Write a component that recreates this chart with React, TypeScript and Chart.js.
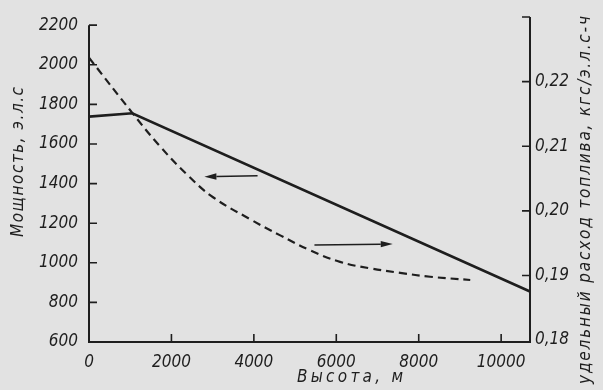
import React, { useEffect, useRef } from "react";
import { Chart, registerables } from "chart.js";

Chart.register(...registerables);

// Altitude (m) vs engine power (e.h.p.) – solid line, left axis
const altitudePower = [0, 1050, 10700];
const power = [1738, 1755, 855];

// Altitude (m) vs specific fuel consumption – dashed line, right axis
const altitudeSfc = [0, 1070, 1720, 2380, 3010, 3910, 4640, 5360, 6090, 6820, 7550, 8280, 9250];
const sfc = [
  0.2237, 0.215, 0.21, 0.2056, 0.2021, 0.1987, 0.1962, 0.1939, 0.1921, 0.1911, 0.1904, 0.1898,
  0.1893,
];

// Axis tick values
const xTicks = [0, 2000, 4000, 6000, 8000, 10000];
const leftTicks = [600, 800, 1000, 1200, 1400, 1600, 1800, 2000, 2200];
const rightTicks = [0.18, 0.19, 0.2, 0.21, 0.22, 0.23];

// Arrows (data coordinates on altitude / power axes)
const arrowStartX = [4090, 5470];
const arrowStartY = [1440, 1090];
const arrowEndX = [2800, 7370];
const arrowEndY = [1435, 1095];

// Titles
const xTitle = "Высота, м";
const leftTitle = "Мощность, э.л.с";
const rightTitle = "удельный расход топлива, кгс/э.л.с-ч";

const INK = "#1e1e1e";
const BG = "#e2e2e2";
const FAMILY = "'DejaVu Sans Condensed', 'Liberation Sans Narrow', 'DejaVu Sans', sans-serif";

const drawSpaced = (ctx: CanvasRenderingContext2D, text: string, target: number) => {
  (ctx as any).letterSpacing = "0px";
  const w = ctx.measureText(text).width;
  const sp = (target - w) / Math.max(1, text.length - 1);
  (ctx as any).letterSpacing = sp + "px";
  ctx.textAlign = "left";
  ctx.fillText(text, -target / 2, 0);
  (ctx as any).letterSpacing = "0px";
};

const decorPlugin = {
  id: "decor",
  beforeDraw(chart: any) {
    const { ctx, width, height } = chart;
    ctx.save();
    ctx.fillStyle = BG;
    ctx.fillRect(0, 0, width, height);
    ctx.restore();
  },
  afterDraw(chart: any) {
    const { ctx, chartArea, scales } = chart;
    const { left, right, bottom } = chartArea;
    const xs = scales.x;
    const yl = scales.y;
    const yr = scales.y1;
    ctx.save();
    ctx.strokeStyle = INK;
    ctx.lineWidth = 2;
    ctx.lineCap = "butt";
    // axis lines
    ctx.beginPath();
    ctx.moveTo(left, yl.getPixelForValue(2200));
    ctx.lineTo(left, bottom);
    ctx.lineTo(right, bottom);
    ctx.lineTo(right, yr.getPixelForValue(0.23));
    ctx.stroke();
    // inward tick marks
    ctx.lineWidth = 1.6;
    ctx.beginPath();
    xTicks.forEach((v) => {
      if (v === 0) return;
      const px = xs.getPixelForValue(v);
      ctx.moveTo(px, bottom);
      ctx.lineTo(px, bottom - 8);
    });
    leftTicks.forEach((v) => {
      if (v === 600) return;
      const py = yl.getPixelForValue(v);
      ctx.moveTo(left, py);
      ctx.lineTo(left + 8, py);
    });
    rightTicks.forEach((v) => {
      if (v === 0.18) return;
      const py = yr.getPixelForValue(v);
      ctx.moveTo(right, py);
      ctx.lineTo(right - 8, py);
    });
    ctx.stroke();
    // arrows
    ctx.fillStyle = INK;
    ctx.lineWidth = 1.5;
    for (let i = 0; i < arrowStartX.length; i++) {
      const x0 = xs.getPixelForValue(arrowStartX[i]);
      const y0 = yl.getPixelForValue(arrowStartY[i]);
      const x1 = xs.getPixelForValue(arrowEndX[i]);
      const y1 = yl.getPixelForValue(arrowEndY[i]);
      const ang = Math.atan2(y1 - y0, x1 - x0);
      const hl = 12;
      const hw = 3.2;
      const bx = x1 - hl * Math.cos(ang);
      const by = y1 - hl * Math.sin(ang);
      ctx.beginPath();
      ctx.moveTo(x0, y0);
      ctx.lineTo(bx, by);
      ctx.stroke();
      ctx.beginPath();
      ctx.moveTo(x1, y1);
      ctx.lineTo(bx - hw * Math.sin(ang), by + hw * Math.cos(ang));
      ctx.lineTo(bx + hw * Math.sin(ang), by - hw * Math.cos(ang));
      ctx.closePath();
      ctx.fill();
    }
    // titles
    ctx.fillStyle = INK;
    ctx.textBaseline = "middle";
    ctx.font = `italic 17px ${FAMILY}`;
    ctx.save();
    ctx.translate(350, 378);
    drawSpaced(ctx, xTitle, 106);
    ctx.restore();
    ctx.save();
    ctx.translate(19, 162);
    ctx.rotate(-Math.PI / 2);
    drawSpaced(ctx, leftTitle, 150);
    ctx.restore();
    ctx.save();
    ctx.translate(586, 200);
    ctx.rotate(-Math.PI / 2);
    drawSpaced(ctx, rightTitle, 368);
    ctx.restore();
    ctx.restore();
  },
};

export default function App() {
  const ref = useRef<HTMLCanvasElement | null>(null);
  useEffect(() => {
    if (!ref.current) return;
    const tickFont = { family: FAMILY, size: 17, style: "italic" as const };
    const chart = new Chart(ref.current, {
      type: "line",
      data: {
        datasets: [
          {
            label: "power",
            data: altitudePower.map((x, i) => ({ x, y: power[i] })),
            yAxisID: "y",
            borderColor: INK,
            borderWidth: 2.6,
            pointRadius: 0,
            tension: 0,
          },
          {
            label: "sfc",
            data: altitudeSfc.map((x, i) => ({ x, y: sfc[i] })),
            yAxisID: "y1",
            borderColor: INK,
            borderWidth: 2.2,
            borderDash: [8, 5],
            pointRadius: 0,
            tension: 0.4,
          },
        ],
      },
      options: {
        responsive: false,
        animation: false,
        layout: { padding: { top: 18, left: 0, right: 0, bottom: 0 } },
        plugins: { legend: { display: false }, tooltip: { enabled: false } },
        scales: {
          x: {
            type: "linear",
            min: 0,
            max: 10700,
            grid: { display: false, drawTicks: false },
            border: { display: false },
            afterFit: (s: any) => {
              s.height = 48;
            },
            afterBuildTicks: (s: any) => {
              s.ticks = xTicks.map((v) => ({ value: v }));
            },
            ticks: {
              font: tickFont,
              color: INK,
              padding: 10,
              maxRotation: 0,
              autoSkip: false,
              callback: (v: any) => String(v),
            },
          },
          y: {
            position: "left",
            min: 600,
            max: 2220,
            grid: { display: false, drawTicks: false },
            border: { display: false },
            afterFit: (s: any) => {
              s.width = 89;
            },
            afterBuildTicks: (s: any) => {
              s.ticks = leftTicks.map((v) => ({ value: v }));
            },
            ticks: {
              font: tickFont,
              color: INK,
              padding: 11,
              callback: (v: any) => String(v),
            },
          },
          y1: {
            position: "right",
            min: 0.1797,
            max: 0.22935,
            grid: { display: false, drawTicks: false },
            border: { display: false },
            afterFit: (s: any) => {
              s.width = 73;
            },
            afterBuildTicks: (s: any) => {
              s.ticks = rightTicks.map((v) => ({ value: v }));
            },
            ticks: {
              font: tickFont,
              color: INK,
              padding: 5,
              callback: (v: any) =>
                Math.abs(v - 0.23) < 1e-6 ? "" : Number(v).toFixed(2).replace(".", ","),
            },
          },
        },
      },
      plugins: [decorPlugin],
    });
    return () => chart.destroy();
  }, []);
  return (
    <div style={{ position: "fixed", left: 0, top: 0, width: 603, height: 390, background: BG }}>
      <canvas ref={ref} width={603} height={390} style={{ display: "block" }} />
    </div>
  );
}
